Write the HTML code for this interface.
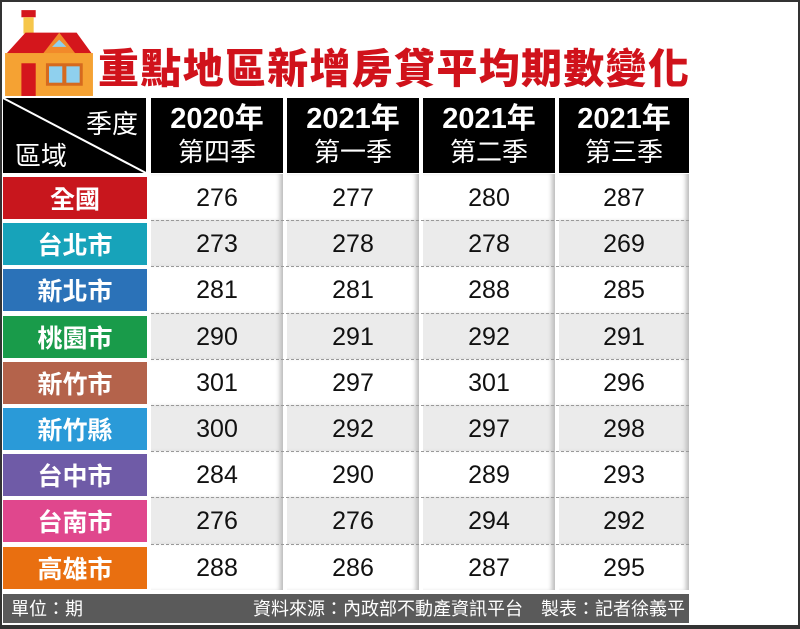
<!DOCTYPE html><html><head><meta charset="utf-8"><style>
*{margin:0;padding:0;box-sizing:border-box}
body{width:800px;height:629px;background:#fff;position:relative;overflow:hidden;font-family:"Liberation Sans","Noto Sans CJK TC",sans-serif}
.a{position:absolute}
.frame{left:0;top:0;width:800px;height:629px;border:2px solid #333;border-bottom-width:4px}
.title{left:98px;top:40px;font-size:41px;font-weight:900;color:#d0121b;letter-spacing:1.3px;font-family:"Noto Sans CJK TC",sans-serif;line-height:50px}
.hd{top:98px;height:75px;background:#000;color:#fff;text-align:center}
.hd .y{font-size:29px;font-weight:bold;line-height:34px;margin-top:4px}
.hd .q{font-size:26px;line-height:30px;font-family:"Noto Sans CJK TC",sans-serif}
.lab{left:3px;width:144px;color:#fff;font-size:25px;font-weight:bold;text-align:center;font-family:"Noto Sans CJK TC",sans-serif}
.cell{text-align:center;font-size:25px;color:#111}
.sh{box-shadow:inset -5px 0 5px -2px #bbb}
.dash{left:3px;width:686px;height:0;border-top:1.5px dashed #999}
</style></head><body>
<div class="a frame"></div>
<svg class="a" style="left:3px;top:6px" width="92" height="90" viewBox="0 0 90 88">
<rect x="18" y="4" width="14" height="7" fill="#d4161c"/><rect x="20" y="11" width="10" height="16" fill="#f6c64a"/>
<polygon points="2,48 22,26 72,26 88,48" fill="#d4161c"/>
<polygon points="38,48 55,26 72,48" fill="#f28a2a"/>
<rect x="2" y="46" width="86" height="42" fill="#f5a233"/>
<rect x="18" y="56" width="14" height="32" fill="#d4161c"/>
<rect x="42" y="56" width="36" height="22" fill="#d66a1e"/>
<rect x="45" y="59" width="13" height="16" fill="#8fd0ee"/><rect x="62" y="59" width="13" height="16" fill="#8fd0ee"/>
<polygon points="48,40 55,33 62,40" fill="#8fd0ee"/>
</svg>
<div class="a title">重點地區新增房貸平均期數變化</div>
<div class="a hd" style="left:3px;width:143px">
<svg width="143" height="75" style="position:absolute;left:0;top:0"><line x1="0" y1="0" x2="143" y2="75" stroke="#fff" stroke-width="2"/></svg>
<div class="a" style="right:8px;top:6px;font-size:26px;font-family:'Noto Sans CJK TC',sans-serif">季度</div>
<div class="a" style="left:12px;top:38px;font-size:26px;font-family:'Noto Sans CJK TC',sans-serif">區域</div>
</div>
<div class="a hd" style="left:151px;width:132px"><div class="y">2020年</div><div class="q">第四季</div></div>
<div class="a hd" style="left:287px;width:132px"><div class="y">2021年</div><div class="q">第一季</div></div>
<div class="a hd" style="left:423px;width:132px"><div class="y">2021年</div><div class="q">第二季</div></div>
<div class="a hd" style="left:559px;width:130px"><div class="y">2021年</div><div class="q">第三季</div></div>
<div id="rows"></div>
<div class="a" style="left:3px;top:594px;width:686px;height:29px;background:#5a5a5a;color:#fff;font-size:18px;line-height:29px;font-family:'Noto Sans CJK TC',sans-serif">
<span style="position:absolute;left:8px">單位：期</span><span style="position:absolute;right:4px">資料來源：內政部不動產資訊平台　製表：記者徐義平</span></div>
<script>
var d=[["全國","#c8161d",276,277,280,287],["台北市","#17a3ba",273,278,278,269],["新北市","#2b72b8",281,281,288,285],["桃園市","#199b4a",290,291,292,291],["新竹市","#b4634b",301,297,301,296],["新竹縣","#2a9ad8",300,292,297,298],["台中市","#6f5ba7",284,290,289,293],["台南市","#e0478d",276,276,294,292],["高雄市","#e96f10",288,286,287,295]];
var xs=[[151,132],[287,132],[423,132],[559,130]],h="";
for(var i=0;i<9;i++){var t=174+i*46.2,bg=i%2?"#ebebeb":"#fff";
h+='<div class="a lab" style="top:'+(t+3)+'px;height:42px;line-height:42px;background:'+d[i][1]+'">'+d[i][0]+'</div>';
for(var j=0;j<4;j++)h+='<div class="a cell sh" style="left:'+xs[j][0]+'px;width:'+xs[j][1]+'px;top:'+t+'px;height:46.2px;line-height:48px;background:'+bg+'">'+d[i][j+2]+'</div>';
if(i>0)h+='<div class="a dash" style="left:151px;width:538px;top:'+t+'px"></div>';}
document.getElementById("rows").innerHTML=h;
</script>
</body></html>
